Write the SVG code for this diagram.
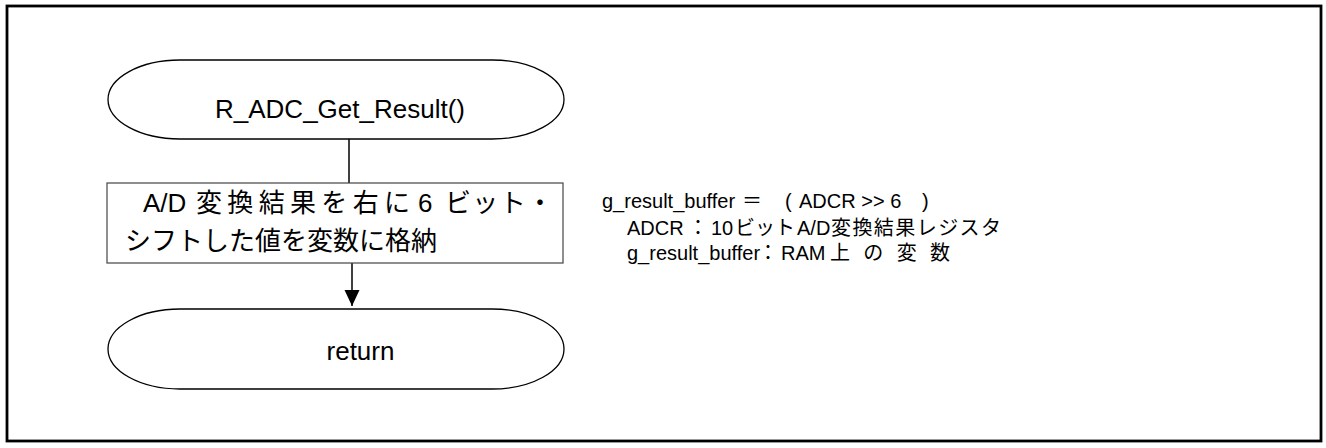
<svg xmlns="http://www.w3.org/2000/svg" width="1326" height="448" viewBox="0 0 1326 448">
<style>
text{font-family:"Liberation Sans","Noto Sans CJK JP",sans-serif;fill:#000}
.term{fill:#fff;stroke:#000;stroke-width:1.3}
.proc{fill:#fff;stroke:#444;stroke-width:1.2}
.conn{stroke:#000;stroke-width:1.5;fill:none}
.big{font-size:26px}
.note{font-size:20px}
</style>
<defs>
<marker id="arrow" markerUnits="userSpaceOnUse" markerWidth="16" markerHeight="16" refX="16" refY="8" orient="auto" viewBox="0 0 16 16">
<path d="M0,0.5 L16,8 L0,15.5 Z" fill="#000"/>
</marker>
</defs>
<rect x="7" y="6" width="1314" height="435" fill="#fff" stroke="#000" stroke-width="2.8"/>
<g id="connectors">
<line class="conn" x1="349" y1="139" x2="349" y2="183"/>
<line class="conn" x1="352" y1="263" x2="352" y2="306" marker-end="url(#arrow)"/>
</g>
<g id="start">
<rect class="term" x="108" y="60" width="456" height="79" rx="72" ry="39.5"/>
<text class="big" x="340" y="118" text-anchor="middle">R_ADC_Get_Result()</text>
</g>
<g id="process">
<rect class="proc" x="107" y="183" width="456" height="80"/>
<text class="big" y="212"><tspan x="143">A/D</tspan><tspan x="196" textLength="214" lengthAdjust="spacing">変換結果を右に</tspan><tspan x="418">6</tspan><tspan x="445" textLength="108" lengthAdjust="spacing">ビット・</tspan></text>
<text class="big" x="125" y="250">シフトした値を変数に格納</text>
</g>
<g id="end">
<rect class="term" x="108" y="309" width="456" height="80" rx="72" ry="40"/>
<text class="big" x="360.5" y="360" text-anchor="middle">return</text>
</g>
<g id="note">
<text class="note" y="208"><tspan x="602">g_result_buffer</tspan><tspan x="742">＝</tspan><tspan x="785">(</tspan><tspan x="799">ADCR &gt;&gt; 6</tspan><tspan x="922">)</tspan></text>
<text class="note" y="235"><tspan x="627">ADCR</tspan><tspan x="688">：</tspan><tspan x="711">10</tspan><tspan x="735" textLength="60" lengthAdjust="spacing">ビット</tspan><tspan x="797">A/D</tspan><tspan x="831" textLength="170" lengthAdjust="spacing">変換結果レジスタ</tspan></text>
<text class="note" y="260"><tspan x="627">g_result_buffer</tspan><tspan x="758">：</tspan><tspan x="781">RAM</tspan><tspan x="830" textLength="120" lengthAdjust="spacing">上の変数</tspan></text>
</g>
</svg>
